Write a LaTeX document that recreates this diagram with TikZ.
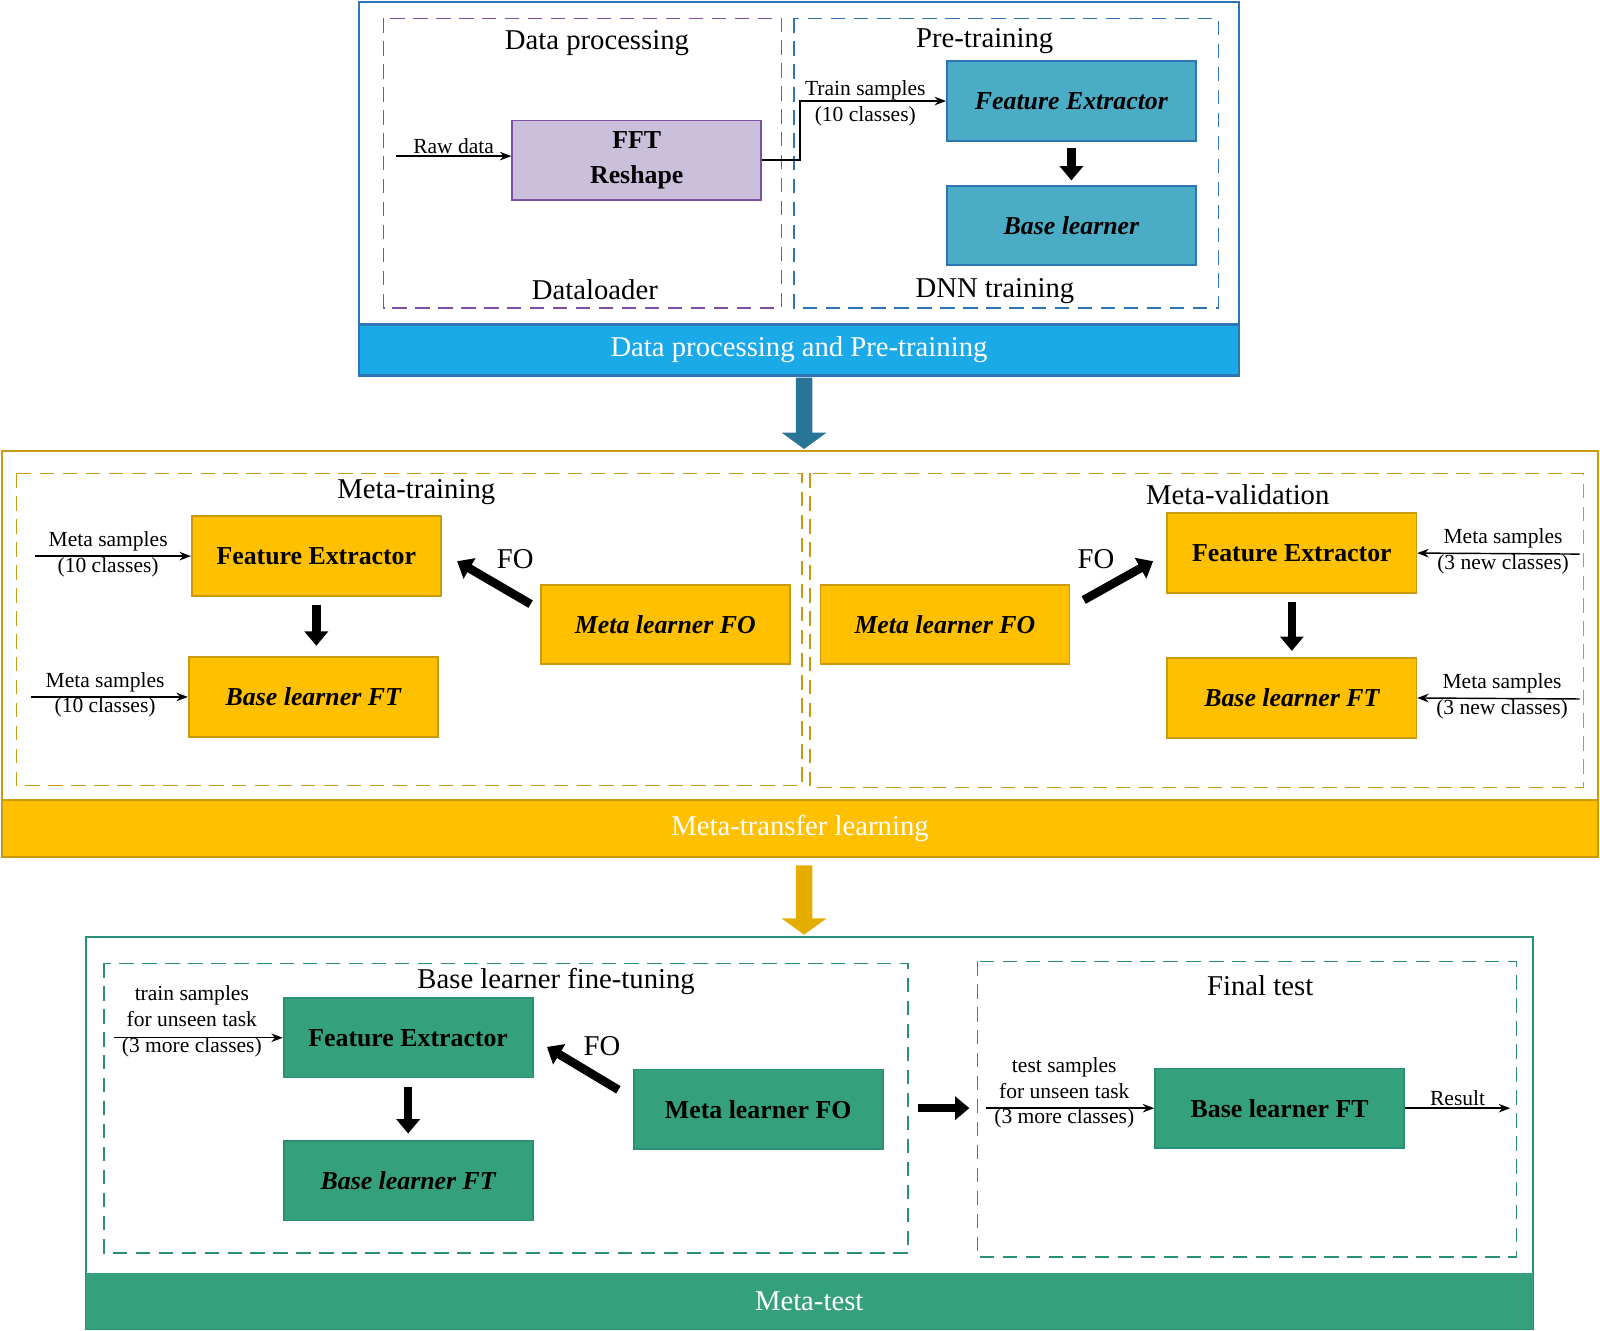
\documentclass[tikz,border=0pt]{standalone}
\usepackage{fontspec}
\setmainfont{Liberation Serif}
\usetikzlibrary{arrows.meta,positioning}
\definecolor{topblue}{HTML}{1AAAE8}
\definecolor{boxblue}{HTML}{4BACC6}
\definecolor{edgeblue}{HTML}{2E75B6}
\definecolor{lav}{HTML}{CBC0DC}
\definecolor{purp}{HTML}{7F4FA8}
\definecolor{mtyellow}{HTML}{FFC000}
\definecolor{mtedge}{HTML}{C99A12}
\definecolor{mtgreen}{HTML}{35A07C}
\definecolor{gedge}{HTML}{2A8F78}
\tikzset{
  blk/.style={minimum width=6.1cm,minimum height=1.95cm,line width=1.2pt,align=center,
    font=\fontsize{18}{24}\selectfont\bfseries},
  title/.style={font=\fontsize{20}{22}\selectfont},
  lbl/.style={font=\fontsize{15}{18}\selectfont,align=center,inner sep=1pt},
  band/.style={font=\fontsize{20}{22}\selectfont,text=white},
  fat/.style={line width=6pt,-{Triangle[length=10pt,width=16pt]}},
  thin/.style={line width=1pt,-{Stealth[length=8pt]}},
  dsh/.style={dashed,dash pattern=on 10pt off 6pt,line width=1pt}
}
\begin{document}
\begin{tikzpicture}[x=0.025cm,y=-0.025cm]
  \useasboundingbox (0,0) rectangle (1568,1304);

  % data processing and pre-training
  \draw[edgeblue,line width=1.5pt] (352,2) rectangle (1214,368);
  \fill[topblue] (352,318) rectangle (1214,368);
  \draw[edgeblue,line width=1.5pt] (352,318) rectangle (1214,368);
  \node[band] (bandtop) at (783,343) {Data processing and Pre-training};
  \draw[purp,dsh] (376,18) rectangle (766,302);
  \draw[edgeblue,dsh] (778,18) rectangle (1194,302);
  \node[title] (tdp) at (585,42) {Data processing};
  \node[title] (tdl) at (583,284) {Dataloader};
  \node[title] (tpt) at (965,40) {Pre-training};
  \node[title] (tdnn) at (975,285) {DNN training};

  \node[blk,fill=lav,draw=purp] (fft) at (624,157) {FFT\\Reshape};
  \node[blk,fill=boxblue,draw=edgeblue,font=\fontsize{18}{20}\selectfont\bfseries\itshape] (fe0) at (1050,99) {Feature Extractor};
  \node[blk,fill=boxblue,draw=edgeblue,font=\fontsize{18}{20}\selectfont\bfseries\itshape] (bl0) at (1050,221) {Base learner};
  \coordinate (raw) at (388,153);
  \draw[thin] (raw) -- node[lbl,above] {Raw data} (raw -| fft.west);
  \draw[thin] (fft.east) -- (784,157) |- (fe0.west);
  \node[lbl] (ts) at (848,101) {Train samples\\(10 classes)};
  \draw[fat] (fe0.south) ++(0,6) -- ++(0,32);

  \fill[topblue!60!black!90] (780,370) -- (796,370) -- (796,424) -- (810,424) -- (788,440) -- (766,424) -- (780,424) -- cycle;

  % meta-transfer learning
  \draw[mtedge,line width=1.5pt] (2,442) rectangle (1566,840);
  \fill[mtyellow] (2,784) rectangle (1566,840);
  \draw[mtedge,line width=1.5pt] (2,784) rectangle (1566,840);
  \node[band] (bandmid) at (784,812) {Meta-transfer learning};
  \draw[mtedge,dsh] (16,464) rectangle (786,770);
  \draw[mtedge,dsh] (794,464) rectangle (1552,772);
  \node[title] (tmt) at (408,482) {Meta-training};
  \node[title] (tmv) at (1213,485) {Meta-validation};

  \tikzset{yb/.style={blk,fill=mtyellow,draw=mtedge}}
  \node[yb] (fe1) at (310,545) {Feature Extractor};
  \node[yb,font=\fontsize{18}{20}\selectfont\bfseries\itshape] (bl1) at (307,683) {Base learner FT};
  \node[yb,font=\fontsize{18}{20}\selectfont\bfseries\itshape] (ml1) at (652,612) {Meta learner FO};
  \coordinate (in1) at (34,545);
  \coordinate (in2) at (30,683);
  \draw[thin] (in1) -- (fe1.west);
  \draw[thin] (in2) -- (bl1.west);
  \node[lbl] (l1) at (106,543) {Meta samples\\(10 classes)};
  \node[lbl] (l2) at (103,681) {Meta samples\\(10 classes)};
  \draw[fat] (520,592) -- (448,550);
  \node[title] (fo1) at (505,548) {FO};
  \draw[fat] (fe1.south) ++(0,8) -- ++(0,40);

  \node[yb,font=\fontsize{18}{20}\selectfont\bfseries\itshape] (ml2) at (926,612) {Meta learner FO};
  \node[yb] (fe2) at (1266,542) {Feature Extractor};
  \node[yb,font=\fontsize{18}{20}\selectfont\bfseries\itshape] (bl2) at (1266,684) {Base learner FT};
  \coordinate (in3) at (1548,543);
  \coordinate (in4) at (1548,685);
  \draw[thin] (in3) -- (fe2.east);
  \draw[thin] (in4) -- (bl2.east);
  \node[lbl] (l3) at (1473,540) {Meta samples\\(3 new classes)};
  \node[lbl] (l4) at (1472,682) {Meta samples\\(3 new classes)};
  \draw[fat] (1062,588) -- (1130,550);
  \node[title] (fo2) at (1074,548) {FO};
  \draw[fat] (fe2.south) ++(0,8) -- ++(0,48);

  \fill[mtyellow!90!black] (780,848) -- (796,848) -- (796,900) -- (810,900) -- (788,916) -- (766,900) -- (780,900) -- cycle;

  % meta-test
  \draw[gedge,line width=1.5pt] (84,918) rectangle (1502,1302);
  \fill[mtgreen] (84,1248) rectangle (1502,1302);
  \node[band] (bandbot) at (793,1275) {Meta-test};
  \draw[gedge,dsh] (102,944) rectangle (890,1228);
  \draw[gedge,dsh] (958,942) rectangle (1486,1232);
  \node[title] (tft) at (545,962) {Base learner fine-tuning};
  \node[title] (tfin) at (1235,966) {Final test};

  \tikzset{gb/.style={blk,fill=mtgreen,draw=gedge}}
  \node[gb] (fe3) at (400,1017) {Feature Extractor};
  \node[gb,font=\fontsize{18}{20}\selectfont\bfseries\itshape] (bl3) at (400,1157) {Base learner FT};
  \node[gb] (ml3) at (743,1087) {Meta learner FO};
  \node[gb] (bl4) at (1254,1086) {Base learner FT};
  \coordinate (in5) at (112,1017);
  \coordinate (in6) at (966,1086);
  \coordinate (res) at (1480,1086);
  \draw[thin] (in5) -- (fe3.west);
  \draw[thin] (in6) -- (bl4.west);
  \draw[thin] (bl4.east) -- node[lbl,above] {Result} (res);
  \node[lbl] (l5) at (188,1001) {train samples\\for unseen task\\(3 more classes)};
  \node[lbl] (l6) at (1043,1071) {test samples\\for unseen task\\(3 more classes)};
  \draw[fat] (606,1068) -- (536,1026);
  \node[title] (fo3) at (590,1025) {FO};
  \draw[fat] (fe3.south) ++(0,8) -- ++(0,46);
  \draw[fat] (900,1086) -- (950,1086);
\end{tikzpicture}
\end{document}
